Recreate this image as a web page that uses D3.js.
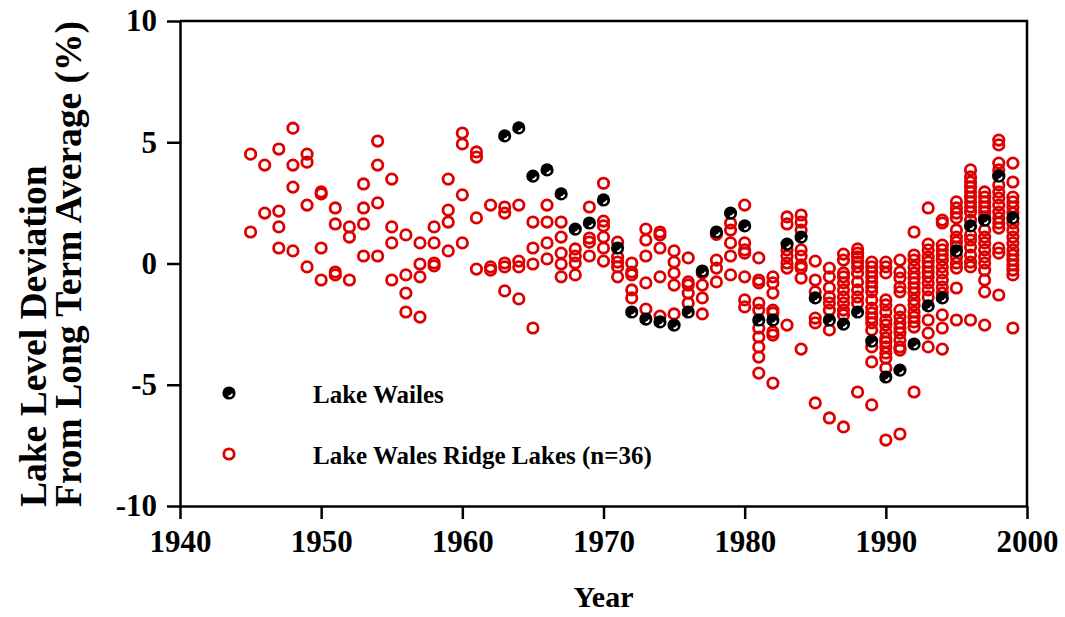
<!DOCTYPE html>
<html>
<head>
<meta charset="utf-8">
<script src="https://cdn.jsdelivr.net/npm/d3@7.9.0/dist/d3.min.js"></script>
<style>
  body { margin: 0; background: #fff; }
  svg { display: block; font-family: "Liberation Serif", "Times New Roman", serif; font-weight: bold; }
</style>
</head>
<body>
<svg id="chart" width="1065" height="617"></svg>
<script>
// Lake Wailes, one value per year
const wailesYears = [1963, 1964, 1965, 1966, 1967, 1968, 1969, 1970, 1971, 1972, 1973, 1974, 1975, 1976,
  1977, 1978, 1979, 1980, 1981, 1982, 1983, 1984, 1985, 1986, 1987, 1988, 1989, 1990, 1991, 1992,
  1993, 1994, 1995, 1996, 1997, 1998, 1999];
const wailesValues = [5.26, 5.59, 3.6, 3.86, 2.87, 1.42, 1.67, 2.62, 0.64, -2.0, -2.29, -2.41, -2.54, -2.0,
  -0.31, 1.3, 2.08, 1.55, -2.33, -2.33, 0.8, 1.09, -1.42, -2.33, -2.5, -2.0, -3.2, -4.68, -4.4, -3.32,
  -1.75, -1.42, 0.52, 1.55, 1.79, 3.6, 1.88];

// Lake Wales Ridge lakes, several lakes per year
const ridgeYears = d3.range(1945, 2000);
const ridgeValues = [
  [4.51, 1.30],                                   // 1945
  [4.06, 2.08],                                   // 1946
  [4.72, 2.16, 1.51, 0.64],                       // 1947
  [5.58, 4.06, 3.15, 0.52],                       // 1948
  [4.51, 4.18, 2.41, -0.14],                      // 1949
  [2.95, 2.87, 0.64, -0.68],                      // 1950
  [2.29, 1.63, -0.35, -0.47],                     // 1951
  [1.51, 1.09, -0.68],                            // 1952
  [3.28, 2.29, 1.63, 0.31],                       // 1953
  [5.05, 4.06, 2.5, 0.31],                        // 1954
  [3.48, 1.51, 0.85, -0.68],                      // 1955
  [1.18, -0.47, -1.22, -2.0],                     // 1956
  [0.85, -0.02, -0.55, -2.21],                    // 1957
  [1.51, 0.85, 0.02, -0.1],                       // 1958
  [3.48, 2.2, 1.71, 0.52],                        // 1959
  [5.38, 4.93, 2.83, 0.85],                       // 1960
  [4.6, 4.39, 1.88, -0.23],                       // 1961
  [2.41, -0.14, -0.27],                           // 1962
  [2.33, 2.08, 0.02, -0.14, -1.13],               // 1963
  [2.41, 0.1, -0.14, -1.46],                      // 1964
  [1.71, 0.64, -0.02, -2.66],                     // 1965
  [2.41, 1.71, 0.85, 0.19],                       // 1966
  [1.71, 1.09, 0.43, -0.02, -0.55],               // 1967
  [0.6, 0.31, 0.02, -0.47],                       // 1968
  [2.33, 1.05, 0.88, 0.31],                       // 1969
  [3.31, 1.75, 1.55, 1.09, 0.64, 0.1],            // 1970
  [0.88, 0.27, 0.06, -0.14, -0.55],               // 1971
  [0.02, -0.35, -0.47, -1.09, -1.42],             // 1972
  [1.42, 0.97, 0.31, -0.8, -1.88],                // 1973
  [1.3, 1.18, 0.64, -0.55, -2.17],                // 1974
  [0.52, 0.06, -0.39, -0.89, -2.08],              // 1975
  [0.23, -0.76, -0.89, -1.22, -1.63],             // 1976
  [-0.39, -0.89, -1.42, -2.08],                   // 1977
  [1.2, 0.14, -0.19, -0.76],                      // 1978
  [1.67, 1.38, 0.85, 0.31, -0.47],                // 1979
  [2.41, 0.85, 0.56, 0.43, -0.55, -1.5, -1.79],   // 1980
  [0.23, -0.68, -0.8, -1.63, -1.92, -2.66, -3.03, -3.44, -3.86, -4.52],     // 1981
  [-0.55, -0.8, -1.22, -1.92, -2.04, -2.82, -2.95, -4.93],                  // 1982
  [1.92, 1.63, 0.56, 0.31, 0.02, -0.19, -2.54],                             // 1983
  [2.0, 1.71, 1.38, 0.56, 0.31, -0.06, -0.19, -0.6, -3.53],                 // 1984
  [0.1, -0.68, -1.17, -2.25, -2.45, -5.75],                                 // 1985
  [-0.19, -0.55, -1.0, -1.38, -1.63, -1.92, -2.74, -6.37],                  // 1986
  [0.39, 0.14, -0.39, -0.55, -0.8, -1.09, -1.38, -1.63, -1.92, -2.12, -6.74], // 1987
  [0.6, 0.43, 0.27, 0.06, -0.14, -0.39, -0.76, -1.09, -1.38, -1.63, -5.3],  // 1988
  [0.06, -0.14, -0.35, -0.55, -0.76, -0.97, -1.17, -1.5, -1.84, -2.04, -2.25, -2.45, -2.74, -3.44, -4.06, -5.83], // 1989
  [0.06, -0.14, -0.39, -1.5, -1.71, -2.0, -2.33, -2.54, -2.82, -3.07, -3.24, -3.44, -3.69, -3.9, -4.31, -7.28], // 1990
  [0.14, -0.35, -0.6, -0.97, -1.17, -1.92, -2.21, -2.45, -2.66, -2.87, -3.15, -3.44, -3.57, -7.03], // 1991
  [1.3, 0.35, 0.14, -0.14, -0.39, -0.6, -0.8, -1.01, -1.22, -1.5, -1.71, -2.0, -2.21, -2.41, -2.62, -5.3], // 1992
  [2.29, 0.8, 0.56, 0.27, 0.06, -0.14, -0.35, -0.55, -0.8, -1.09, -1.38, -2.33, -2.87, -3.44], // 1993
  [1.79, 1.67, 0.76, 0.56, 0.35, 0.14, -0.14, -0.39, -0.68, -0.97, -1.22, -2.12, -2.66, -3.53], // 1994
  [2.54, 2.29, 2.08, 1.88, 1.38, 1.09, 0.88, 0.68, 0.27, 0.02, -0.19, -1.01, -2.33], // 1995
  [3.86, 3.57, 3.36, 3.15, 2.95, 2.74, 2.54, 2.33, 2.12, 1.79, 1.18, 0.97, 0.68, 0.35, 0.06, -0.14, -2.33], // 1996
  [2.95, 2.74, 2.54, 2.33, 2.12, 1.92, 1.38, 1.09, 0.85, 0.56, 0.27, 0.02, -0.27, -0.68, -1.17, -2.54], // 1997
  [5.09, 4.89, 4.14, 3.86, 3.65, 3.24, 2.95, 2.7, 2.41, 2.12, 1.88, 1.67, 1.46, 0.64, 0.43, -1.3], // 1998
  [4.14, 3.36, 2.74, 2.54, 2.33, 2.08, 1.67, 1.38, 1.09, 0.85, 0.56, 0.35, 0.14, -0.06, -0.27, -0.47, -2.66] // 1999
];

const xTicks = [1940, 1950, 1960, 1970, 1980, 1990, 2000];
const yTicks = [-10, -5, 0, 5, 10];
const seriesNames = ["Lake Wailes", "Lake Wales Ridge Lakes (n=36)"];

const red = "#dd0000";
const svg = d3.select("#chart");

const x = d3.scaleLinear().domain([1940, 2000]).range([180, 1027]);
const y = d3.scaleLinear().domain([-10, 10]).range([506, 21]);

// frame (top and right)
svg.append("path")
  .attr("d", `M${x(1940)},${y(10)}H${x(2000)}V${y(-10)}`)
  .attr("fill", "none").attr("stroke", "#000").attr("stroke-width", 2.5);

// plain hyphen for negatives, like the original
const fmt = d => String(d);

const xAxis = svg.append("g")
  .attr("transform", `translate(0,${y(-10)})`)
  .call(d3.axisBottom(x).tickValues(xTicks).tickFormat(fmt).tickSize(13).tickSizeOuter(0).tickPadding(11));

const yAxis = svg.append("g")
  .attr("transform", `translate(${x(1940)},0)`)
  .call(d3.axisLeft(y).tickValues(yTicks).tickFormat(fmt).tickSize(13).tickSizeOuter(0).tickPadding(10));

[xAxis, yAxis].forEach(g => {
  g.select(".domain").attr("stroke-width", 2.5);
  g.selectAll(".tick line").attr("stroke-width", 2.5);
  g.selectAll(".tick text")
    .attr("font-family", "Liberation Serif, Times New Roman, serif")
    .attr("font-weight", "bold")
    .attr("font-size", 31)
    .attr("fill", "#000");
});

// axis titles
svg.append("text")
  .attr("x", x(1970)).attr("y", 607)
  .attr("text-anchor", "middle")
  .attr("font-size", 30)
  .text("Year");

const yTitle = svg.append("text")
  .attr("transform", `translate(0,507) rotate(-90)`)
  .attr("text-anchor", "start")
  .attr("font-size", 37.5);
yTitle.append("tspan").attr("x", 0).attr("y", 46).text("Lake Level Deviation");
yTitle.append("tspan").attr("x", 0).attr("y", 81).text("From Long Term Average (%)");

// ridge lakes: open red circles
const ridgePoints = ridgeYears.flatMap((yr, i) => ridgeValues[i].map(v => ({ year: yr, value: v })));

function drawRidge(sel) {
  sel.attr("r", 5.2).attr("fill", "none").attr("stroke", red).attr("stroke-width", 2.8);
}

svg.append("g").selectAll("circle")
  .data(ridgePoints)
  .join("circle")
  .attr("cx", d => x(d.year))
  .attr("cy", d => y(d.value))
  .call(drawRidge);

// Lake Wailes: black shaded spheres
const shine = d3.arc().innerRadius(2.4).outerRadius(4).startAngle(Math.PI * 0.55).endAngle(Math.PI * 1.05);

function drawWailes(g) {
  g.append("circle").attr("r", 6.6).attr("fill", "#000");
  g.append("path").attr("d", shine()).attr("fill", "#fff");
}

svg.append("g").selectAll("g")
  .data(wailesYears.map((yr, i) => ({ year: yr, value: wailesValues[i] })))
  .join("g")
  .attr("transform", d => `translate(${x(d.year)},${y(d.value)})`)
  .each(function () { drawWailes(d3.select(this)); });

// legend
const legend = svg.append("g");
drawWailes(legend.append("g").attr("transform", "translate(229,393)"));
legend.append("circle").attr("cx", 229).attr("cy", 454).call(drawRidge);
legend.append("text").attr("x", 313).attr("y", 403).attr("font-size", 25).text(seriesNames[0]);
legend.append("text").attr("x", 313).attr("y", 464).attr("font-size", 25).text(seriesNames[1]);
</script>
</body>
</html>
